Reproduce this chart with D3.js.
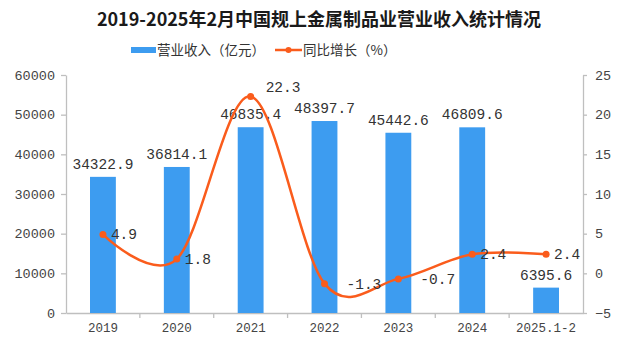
<!DOCTYPE html>
<html><head><meta charset="utf-8">
<script src="https://cdn.jsdelivr.net/npm/d3@7"></script>
<style>body{margin:0;background:#fff}svg{display:block}</style>
</head><body><svg id="c" width="636" height="345"></svg>
<script>
const categories = ["2019","2020","2021","2022","2023","2024","2025.1-2"];
const revenue = [34322.9, 36814.1, 46835.4, 48397.7, 45442.6, 46809.6, 6395.6];
const growth = [4.9, 1.8, 22.3, -1.3, -0.7, 2.4, 2.4];
const leftTicks = [0,10000,20000,30000,40000,50000,60000];
const rightTicks = [-5,0,5,10,15,20,25];
const title = "2019-2025年2月中国规上金属制品业营业收入统计情况";
const seriesNames = ["营业收入（亿元）","同比增长（%）"];

const svg = d3.select("#c");
const W=636,H=345, m={l:66,r:53,t:75,b:32};
const barColor="#3d9cf0", lineColor="#fa5c1c", axisColor="#bfbfbf";
const cjk = "'Noto Sans CJK SC','Noto Sans',sans-serif";
const num = "'Liberation Mono','DejaVu Sans Mono',monospace";

const x = d3.scaleBand().domain(categories).range([m.l, W-m.r]).paddingInner(0.65).paddingOuter(0.325);
const xb = d3.scaleBand().domain(categories).range([m.l, W-m.r]);
const yL = d3.scaleLinear().domain([0,60000]).range([H-m.b, m.t]);
const yR = d3.scaleLinear().domain([-5,25]).range([H-m.b, m.t]);

svg.append("text").attr("x",319).attr("y",26).attr("text-anchor","middle")
  .attr("font-family",cjk).attr("font-weight","bold").attr("font-size",18).attr("fill","#1a1a1a").text(title);

// legend
const lg = svg.append("g");
lg.append("rect").attr("x",131).attr("y",47).attr("width",25).attr("height",6).attr("fill",barColor);
lg.append("text").attr("x",157).attr("y",55).attr("font-family",cjk).attr("font-size",13.5).attr("fill","#333").text(seriesNames[0]);
lg.append("line").attr("x1",275).attr("x2",302).attr("y1",50).attr("y2",50).attr("stroke",lineColor).attr("stroke-width",2.5);
lg.append("circle").attr("cx",288.5).attr("cy",50).attr("r",3).attr("fill",lineColor);
lg.append("text").attr("x",303).attr("y",55).attr("font-family",cjk).attr("font-size",13.5).attr("fill","#333").text(seriesNames[1]);

// axes
function styleAxis(g, fs){
  g.selectAll("path,line").attr("stroke",axisColor).attr("stroke-width",1.3);
  g.selectAll("text").attr("font-family",num).attr("font-size",fs).attr("fill","#444");
}
const gl = svg.append("g").attr("transform",`translate(${m.l},0)`)
  .call(d3.axisLeft(yL).tickValues(leftTicks).tickSize(5).tickSizeOuter(0).tickPadding(6).tickFormat(d3.format("d")));
styleAxis(gl, 13.5);
const gr = svg.append("g").attr("transform",`translate(${W-m.r},0)`)
  .call(d3.axisRight(yR).tickValues(rightTicks).tickSize(4).tickSizeOuter(0).tickPadding(8).tickFormat(d3.format("d")));
styleAxis(gr, 13.5);
const gx = svg.append("g").attr("transform",`translate(0,${H-m.b})`)
  .call(d3.axisBottom(xb).tickSize(0).tickPadding(10));
styleAxis(gx, 12.5);
gx.selectAll(".tick line").remove();
gx.selectAll(".sep").data(categories.slice(1)).enter().append("line")
  .attr("x1",d=>xb(d)).attr("x2",d=>xb(d)).attr("y1",0).attr("y2",5).attr("stroke",axisColor).attr("stroke-width",1.3);

// bars
svg.append("g").selectAll("rect").data(categories).enter().append("rect")
  .attr("x",d=>x(d)).attr("width",x.bandwidth())
  .attr("y",(d,i)=>yL(revenue[i])).attr("height",(d,i)=>yL(0)-yL(revenue[i]))
  .attr("fill",barColor);
svg.append("g").selectAll("text").data(categories).enter().append("text")
  .attr("x",d=>xb(d)+xb.bandwidth()/2).attr("y",(d,i)=>yL(revenue[i])-8)
  .attr("text-anchor","middle").attr("font-family",num).attr("font-size",14.5).attr("fill","#333")
  .text((d,i)=>revenue[i].toFixed(1));

// line
const pts = categories.map((d,i)=>[xb(d)+xb.bandwidth()/2, yR(growth[i])]);
svg.append("path").datum(pts).attr("d",d3.line().curve(d3.curveCardinal.tension(0)))
  .attr("fill","none").attr("stroke",lineColor).attr("stroke-width",2.5);
svg.append("g").selectAll("circle").data(pts).enter().append("circle")
  .attr("cx",d=>d[0]).attr("cy",d=>d[1]).attr("r",3.5).attr("fill",lineColor);
svg.append("g").selectAll("text").data(pts).enter().append("text")
  .attr("x",(d,i)=>d[0]+(i===2?15:(growth[i]<0?22:8))).attr("y",(d,i)=>d[1]+(i===2?-4:5))
  .attr("font-family",num).attr("font-size",14.5).attr("fill","#333")
  .text((d,i)=>growth[i].toFixed(1));
</script></body></html>
